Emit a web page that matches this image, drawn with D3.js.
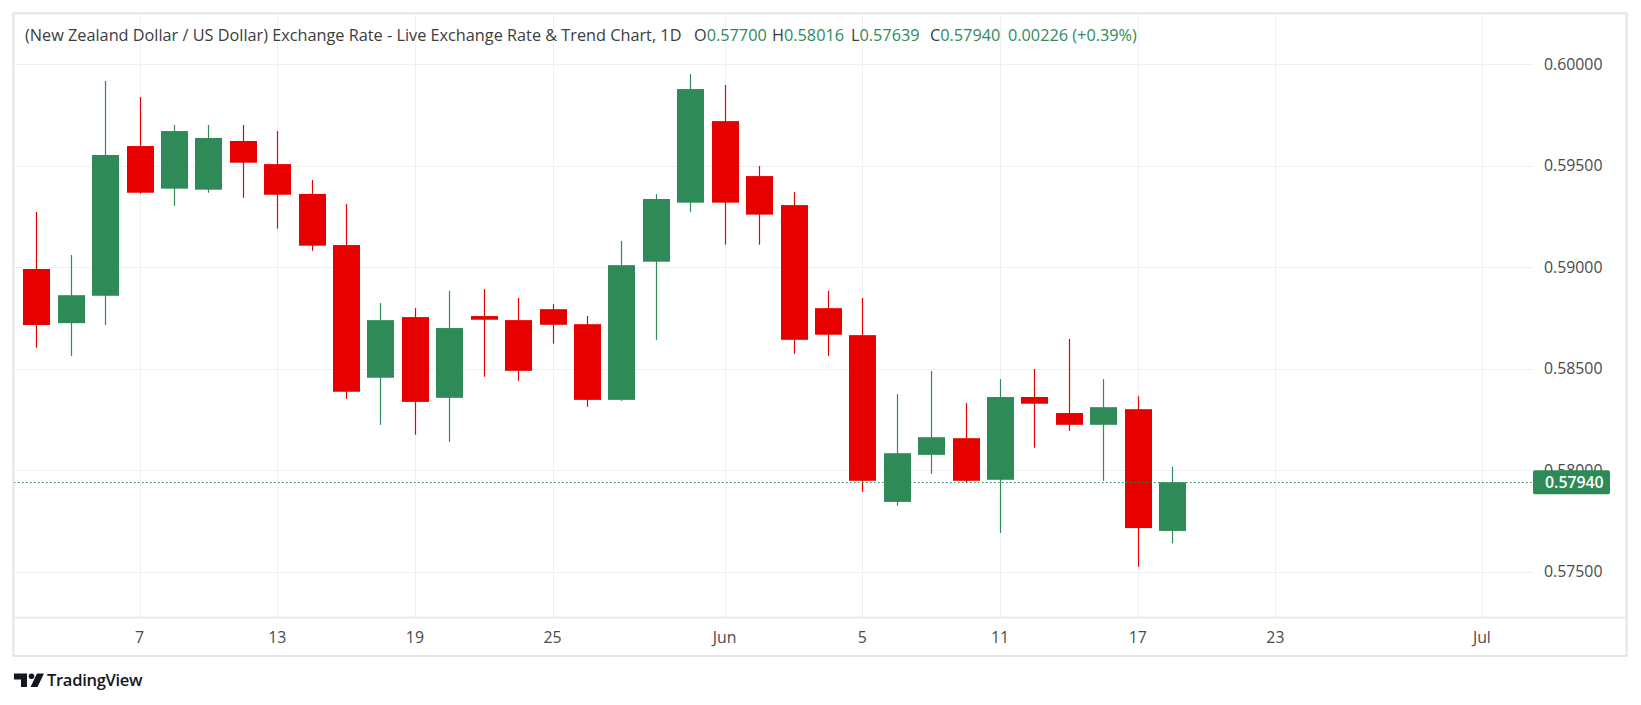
<!DOCTYPE html>
<html><head><meta charset="utf-8">
<script src="https://cdn.jsdelivr.net/npm/d3@7"></script>
<style>html,body{margin:0;padding:0;background:#fff;} svg{display:block;}</style>
</head><body><svg id="c" width="1641" height="705"></svg>
<script>
// ---- data ----
const opens  = [0.58991,0.58724,0.58859,0.59597,0.59387,0.59382,0.59622,0.59508,0.59361,0.59109,0.58455,0.58754,0.58356,0.58759,0.58739,0.58793,0.58719,0.58346,0.59027,0.59318,0.59720,0.59449,0.59306,0.58798,0.58665,0.57843,0.58075,0.58157,0.57952,0.58360,0.58281,0.58223,0.58300,0.57700];
const highs  = [0.59272,0.59060,0.59918,0.59839,0.59701,0.59701,0.59701,0.59671,0.59430,0.59311,0.58823,0.58798,0.58884,0.58892,0.58848,0.58818,0.58759,0.59129,0.59360,0.59952,0.59898,0.59499,0.59370,0.58884,0.58848,0.58374,0.58488,0.58330,0.58448,0.58498,0.58646,0.58448,0.58364,0.58016];
const lows   = [0.58603,0.58563,0.58715,0.59362,0.59303,0.59367,0.59342,0.59190,0.59081,0.58351,0.58223,0.58174,0.58139,0.58460,0.58440,0.58623,0.58312,0.58341,0.58642,0.59273,0.59111,0.59111,0.58573,0.58563,0.57893,0.57824,0.57981,0.57939,0.57690,0.58110,0.58193,0.57947,0.57523,0.57639];
const closes = [0.58715,0.58862,0.59553,0.59367,0.59671,0.59637,0.59515,0.59357,0.59106,0.58386,0.58739,0.58336,0.58700,0.58741,0.58489,0.58716,0.58346,0.59010,0.59336,0.59878,0.59318,0.59259,0.58642,0.58667,0.57947,0.58083,0.58162,0.57947,0.58360,0.58327,0.58223,0.58310,0.57714,0.57940];
const tickIndex  = [3,7,11,15,20,24,28,32,36,42];
const tickLabels = ["7","13","19","25","Jun","5","11","17","23","Jul"];
const priceTicks = [0.575,0.580,0.585,0.590,0.595,0.600];
const titleText = "(New Zealand Dollar / US Dollar) Exchange Rate - Live Exchange Rate & Trend Chart, 1D";

// ---- styling ----
const UP = "#2e8b57", DOWN = "#e60000";
const FONT = "'Open Sans', 'Noto Sans', sans-serif";
const GRID = "#f0f0f3", BORDER = "#e4e4ea", TXT = "#3c3c3c", AX = "#4a4a4a";

const svg = d3.select("#c");
svg.append("rect").attr("width",1641).attr("height",705).attr("fill","#fff");

const plotL = 14, plotR = 1533, plotT = 14, plotB = 617;
const x = d3.scaleLinear().domain([0, 42]).range([36.3, 1481.9]);
const y = d3.scaleLinear().domain([0.575, 0.600]).range([571.5, 64.3]);
const bodyW = 27;

function fit(sel, target){
  const w = sel.node().getComputedTextLength();
  const fs = parseFloat(sel.attr("font-size"));
  sel.attr("font-size", (fs*target/w).toFixed(3));
}

// grid
svg.append("g").selectAll("line").data(priceTicks).join("line")
  .attr("x1", plotL).attr("x2", plotR)
  .attr("y1", d => Math.round(y(d))+0.5).attr("y2", d => Math.round(y(d))+0.5)
  .attr("stroke", GRID).attr("stroke-width", 1);
svg.append("g").selectAll("line").data(tickIndex).join("line")
  .attr("x1", d => Math.round(x(d))+0.5).attr("x2", d => Math.round(x(d))+0.5)
  .attr("y1", plotT).attr("y2", plotB)
  .attr("stroke", GRID).attr("stroke-width", 1);

// candles
const data = opens.map((o,i)=>({i, o, h:highs[i], l:lows[i], c:closes[i]}));
const cg = svg.append("g");
const cand = cg.selectAll("g").data(data).join("g");
cand.append("line")
  .attr("x1", d => Math.round(x(d.i))+0.5).attr("x2", d => Math.round(x(d.i))+0.5)
  .attr("y1", d => y(d.h)).attr("y2", d => y(d.l))
  .attr("stroke", d => d.c >= d.o ? UP : DOWN).attr("stroke-width", 1.2);
cand.append("rect")
  .attr("x", d => Math.round(x(d.i)) + 0.5 - bodyW/2)
  .attr("width", bodyW)
  .attr("y", d => y(Math.max(d.o,d.c)))
  .attr("height", d => Math.max(1.5, Math.abs(y(d.o)-y(d.c))))
  .attr("fill", d => d.c >= d.o ? UP : DOWN);

// price axis labels
const pfmt = d3.format(".5f");
const pl = svg.append("g").selectAll("text").data(priceTicks).join("text")
  .attr("x", 1544).attr("y", d => y(d)).attr("dy","0.36em")
  .attr("font-family", FONT).attr("font-size", 14).attr("fill", AX)
  .text(d => pfmt(d));
fit(d3.select(pl.nodes()[0]), 58.5);
const axFs = d3.select(pl.nodes()[0]).attr("font-size");
pl.attr("font-size", axFs);

// last price line + label
const last = data[data.length-1];
svg.append("line").attr("x1", plotL).attr("x2", plotR)
  .attr("y1", Math.round(y(last.c))+0.5).attr("y2", Math.round(y(last.c))+0.5)
  .attr("stroke", UP).attr("stroke-width", 1).attr("stroke-dasharray", "1.5,2.5");
svg.append("rect").attr("x", 1533).attr("width", 77)
  .attr("y", y(last.c) - 12).attr("height", 24).attr("rx", 2).attr("fill", UP);
svg.append("text").attr("x", 1545).attr("y", y(last.c)).attr("dy","0.36em")
  .attr("font-family", FONT).attr("font-size", axFs).attr("font-weight", 600).attr("fill", "#fff")
  .text(pfmt(last.c));

// time axis
svg.append("line").attr("x1", plotL).attr("x2", 1626.7).attr("y1", 617.5).attr("y2", 617.5)
  .attr("stroke", BORDER).attr("stroke-width", 1.5);
svg.append("g").selectAll("text").data(tickIndex).join("text")
  .attr("x", d => x(d)).attr("y", 637.5).attr("dy", "0.36em").attr("text-anchor","middle")
  .attr("font-family", FONT).attr("font-size", axFs).attr("fill", AX)
  .text((d,i) => tickLabels[i]);

// outer border
svg.append("rect").attr("x", 13.3).attr("y", 13.3).attr("width", 1626.7-13.3).attr("height", 656-13.3)
  .attr("fill","none").attr("stroke", BORDER).attr("stroke-width", 2);

// title
const tt = svg.append("text").attr("x", 25).attr("y", 41)
  .attr("font-family", FONT).attr("font-size", 16).attr("fill", TXT).text(titleText);
fit(tt, 657);
const tFs = tt.attr("font-size");
const prev = data[data.length-2];
const chg = last.c - prev.c, pct = chg/prev.c*100;
const segs = [
  {k:"O", v:pfmt(last.o), x:694},
  {k:"H", v:pfmt(last.h), x:772},
  {k:"L", v:pfmt(last.l), x:851},
  {k:"C", v:pfmt(last.c), x:930},
  {k:"",  v:pfmt(chg) + " (" + (pct>=0?"+":"") + pct.toFixed(2) + "%)", x:1008}
];
segs.forEach(s => {
  const t = svg.append("text").attr("x", s.x).attr("y", 41)
    .attr("font-family", FONT).attr("font-size", tFs);
  if (s.k) t.append("tspan").attr("fill", TXT).text(s.k);
  t.append("tspan").attr("fill", UP).text(s.v);
});

// TradingView mark
const lg = svg.append("g").attr("fill", "#131722");
lg.append("path").attr("d", "M14,673.5 H27 V687 H21 V679.5 H14 Z");
lg.append("circle").attr("cx", 31.5).attr("cy", 676.3).attr("r", 2.8);
lg.append("path").attr("d", "M37,673.5 H44 L37.5,687 H30.5 Z");
const tv = svg.append("text").attr("x", 47).attr("y", 685.5)
  .attr("font-family", FONT).attr("font-size", 15).attr("font-weight", 600)
  .attr("fill", "#131722").attr("letter-spacing", "-0.3").text("TradingView");
fit(tv, 95);
</script></body></html>
